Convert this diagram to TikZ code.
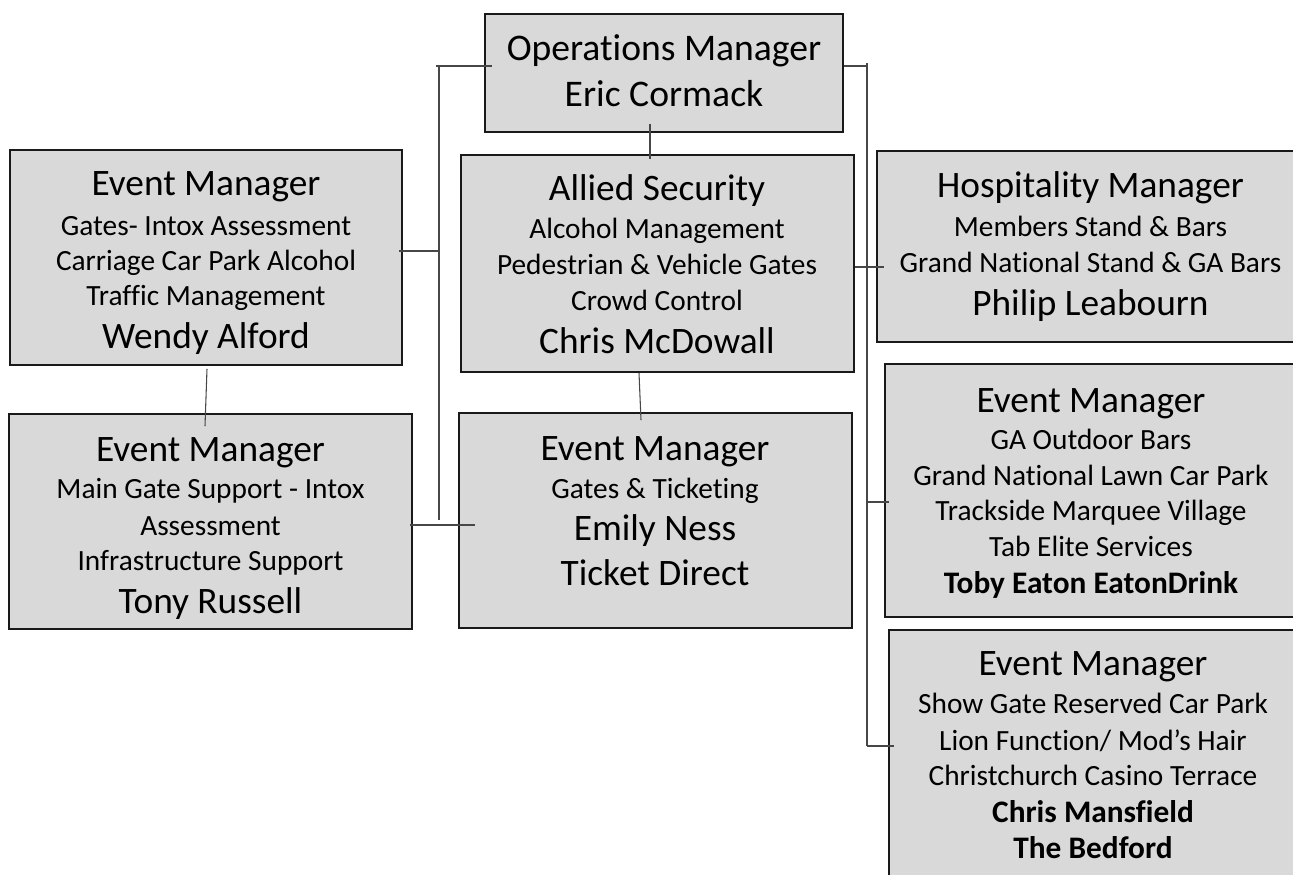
\documentclass[tikz,border=0pt]{standalone}
\usepackage{fontspec}
\setmainfont{Carlito}[Ligatures=NoCommon]
\usetikzlibrary{fit,calc}
\definecolor{boxgray}{HTML}{D9D9D9}
\definecolor{linkgray}{HTML}{474747}
% type sizes used in the chart
\newcommand\opsfont{\fontsize{28.2}{30}\selectfont}
\newcommand\ttlfont{\fontsize{28}{30}\selectfont}
\newcommand\namefont{\fontsize{28}{30}\selectfont}
\newcommand\subfont{\fontsize{22}{27}\selectfont}
\newcommand\bnamefont{\fontsize{23.5}{27}\selectfont\bfseries}
\begin{document}
\begin{tikzpicture}[x=0.75pt,y=-0.75pt,
  orgbox/.style={draw=black!90,fill=boxgray,line width=1.4pt,inner sep=0pt},
  boxtext/.style={text width=420pt,align=flush center,font=\subfont,anchor=base,inner sep=0pt},
  link/.style={draw=linkgray,line width=0.8pt}]
\useasboundingbox (0,0) rectangle (1293,875);
\clip (0,0) rectangle (1293,875);

% boxes
\node[orgbox,fit={(485,14) (843,132)}] (ops) {};
\node[orgbox,fit={(461,155) (854,372)}] (allied) {};
\node[orgbox,fit={(459,413) (852,628)}] (emily) {};
\node[orgbox,fit={(10,150) (402,365)}] (wendy) {};
\node[orgbox,fit={(9,414) (412,629)}] (tony) {};
\node[orgbox,fit={(877,151) (1304,342)}] (hosp) {};
\node[orgbox,fit={(885,364) (1297,617)}] (toby) {};
\node[orgbox,fit={(889,630) (1297,885)}] (mans) {};

% trunks
\coordinate (ltop) at (439,66);
\coordinate (lbot) at (439,520);
\coordinate (rtop) at (867,63);
\coordinate (rbot) at (867,746);

% left side links
\draw[link] ($(ops.west)+(8,-7)$) -- ($(ltop)+(-3,0)$);
\draw[link] (ltop) -- (lbot);
\draw[link] ($(wendy.east)+(-4,-6.5)$) coordinate (w1) -- (w1 -| ltop);
\draw[link] ($(tony.east)+(-3,3.5)$) -- ($(emily.west)+(17,4.5)$);

% right side links
\draw[link] ($(ops.east)+(0,-7)$) -- ($(rtop)+(-1,3)$);
\draw[link] (rtop) -- (rbot);
\draw[link] ($(allied.east)+(0,3.5)$) -- ($(hosp.west)+(8,20.5)$);
\draw[link] ($(toby.west)+(5,11.5)$) coordinate (t1) -- (t1 -| rtop);
\draw[link] ($(mans.west)+(6,-11.5)$) coordinate (m1) -- (m1 -| rtop);

% vertical links
\draw[link] ($(ops.south)+(-14,-9)$) -- ($(allied.north)+(-7.5,5)$);
\draw[link] ($(allied.south)+(-18.5,0)$) -- ($(emily.north)+(-14.5,8)$);
\draw[link] ($(wendy.south)+(1,3)$) -- ($(tony.north)+(-5.5,13)$);

% box texts
\node[boxtext] (ops-t) at (664,60)
  {{\opsfont Operations Manager}\\[7.5pt]{\opsfont Eric Cormack}};
\node[boxtext] (allied-t) at (657,200)
  {{\ttlfont Allied Security}\\[1.5pt]
   Alcohol Management\\
   Pedestrian \& Vehicle Gates\\
   Crowd Control\\[5.25pt]
   {\namefont Chris McDowall}};
\node[boxtext] (emily-t) at (655,460)
  {{\ttlfont Event Manager}\\[1.5pt]
   Gates \& Ticketing\\[4.5pt]
   {\namefont Emily Ness}\\[6.75pt]
   {\namefont Ticket Direct}};
\node[boxtext] (wendy-t) at (206,195)
  {{\ttlfont Event Manager}\\[3pt]
   Gates- Intox Assessment\\[-0.75pt]
   Carriage Car Park Alcohol\\[-0.75pt]
   Traffic Management\\[5.25pt]
   {\namefont Wendy Alford}};
\node[boxtext] (tony-t) at (210.5,461)
  {{\ttlfont Event Manager}\\[0.75pt]
   Main Gate Support - Intox\\[0.75pt]
   Assessment\\[-0.75pt]
   Infrastructure Support\\[5.25pt]
   {\namefont Tony Russell}};
\node[boxtext] (hosp-t) at (1090.5,197)
  {{\ttlfont Hospitality Manager}\\[2.25pt]
   Members Stand \& Bars\\
   Grand National Stand \& GA Bars\\[5.25pt]
   {\namefont Philip Leabourn}};
\node[boxtext] (toby-t) at (1091,412)
  {{\ttlfont Event Manager}\\[0.75pt]
   GA Outdoor Bars\\
   Grand National Lawn Car Park\\[-0.75pt]
   Trackside Marquee Village\\
   Tab Elite Services\\[0.75pt]
   {\bnamefont Toby Eaton EatonDrink}};
\node[boxtext] (mans-t) at (1093,675)
  {{\ttlfont Event Manager}\\[1.5pt]
   Show Gate Reserved Car Park\\[0.75pt]
   Lion Function/ Mod’s Hair\\[-0.75pt]
   Christchurch Casino Terrace\\[0.75pt]
   {\bnamefont Chris Mansfield}\\
   {\bnamefont The Bedford}};
\end{tikzpicture}
\end{document}
